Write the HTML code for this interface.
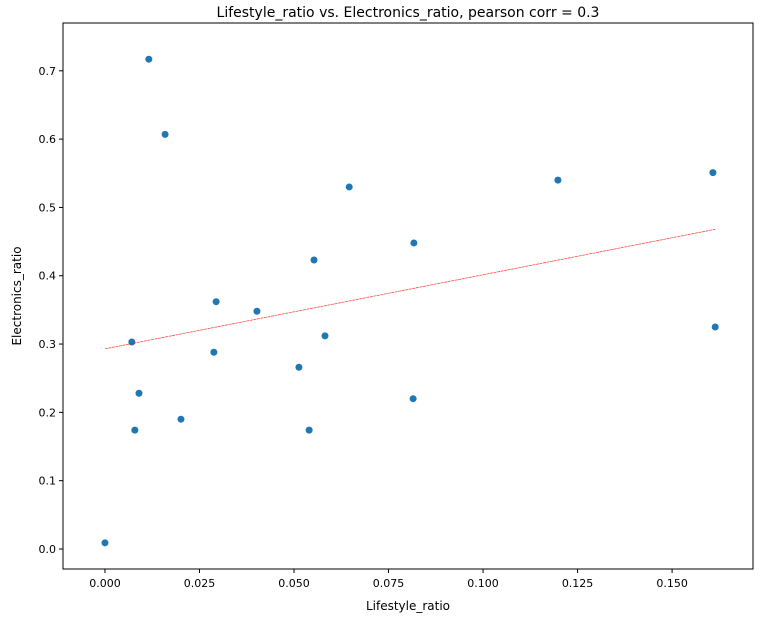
<!DOCTYPE html>
<html><head><meta charset="utf-8"><style>
body{margin:0;background:#fff;}
svg{display:block;font-family:"DejaVu Sans","Liberation Sans",sans-serif;}
</style></head><body>
<svg id="chart" width="772" height="624" viewBox="0 0 772 624">
<text x="408" y="17" text-anchor="middle" font-size="14" fill="#000">Lifestyle_ratio vs. Electronics_ratio, pearson corr = 0.3</text>
<g id="marks"></g>
<g id="axes"></g>
<text x="408" y="610" text-anchor="middle" font-size="12">Lifestyle_ratio</text>
<text x="21" y="296" text-anchor="middle" font-size="12" transform="rotate(-90 21 296)">Electronics_ratio</text>
</svg>
<script>
const xs=[0,0.0116,0.0159,0.0071,0.0090,0.0079,0.0201,0.0294,0.0288,0.0402,0.0513,0.0540,0.0553,0.0582,0.0646,0.0817,0.0815,0.1198,0.1608,0.1614];
const ys=[0.009,0.717,0.607,0.303,0.228,0.174,0.190,0.362,0.288,0.348,0.266,0.174,0.423,0.312,0.530,0.448,0.220,0.540,0.551,0.325];
const xTicks=[0,0.025,0.05,0.075,0.1,0.125,0.15];
const xTickLabels=["0.000","0.025","0.050","0.075","0.100","0.125","0.150"];
const yTicks=[0,0.1,0.2,0.3,0.4,0.5,0.6,0.7];
const yTickLabels=["0.0","0.1","0.2","0.3","0.4","0.5","0.6","0.7"];
const trendStart=[0,0.293];
const trendEnd=[0.1614,0.468];
const L=63,R=753,T=23,B=569;
const xMin=-0.0111,xMax=0.1714,yMin=-0.0293,yMax=0.770;
const sx=v=>L+(v-xMin)/(xMax-xMin)*(R-L);
const sy=v=>B-(v-yMin)/(yMax-yMin)*(B-T);
const NS="http://www.w3.org/2000/svg";
function mk(tag,attrs,parent){const e=document.createElementNS(NS,tag);for(const k in attrs)e.setAttribute(k,attrs[k]);parent.appendChild(e);return e;}
const marks=document.getElementById('marks'),axes=document.getElementById('axes');
xs.forEach((x,i)=>{const c=mk('circle',{cx:sx(x),cy:sy(ys[i]),r:3.5,fill:'#1f77b4'},marks);

});
const tl=mk('line',{x1:sx(trendStart[0]),y1:sy(trendStart[1]),x2:sx(trendEnd[0]),y2:sy(trendEnd[1]),stroke:'#ff0000','stroke-width':0.8,'stroke-opacity':0.7,'stroke-dasharray':'3,0.6'},marks);


const fr=mk('rect',{x:L,y:T,width:R-L,height:B-T,fill:'none',stroke:'#000','stroke-width':1},axes);


xTicks.forEach((t,i)=>{const x=sx(t);mk('line',{x1:x,y1:B,x2:x,y2:B+4,stroke:'#000'},axes);
const tx=mk('text',{x:x,y:B+18,'text-anchor':'middle','font-size':11},axes);tx.textContent=xTickLabels[i];

});
yTicks.forEach((t,i)=>{const y=sy(t);mk('line',{x1:L-4,y1:y,x2:L,y2:y,stroke:'#000'},axes);
const tx=mk('text',{x:L-7,y:y+4,'text-anchor':'end','font-size':11},axes);tx.textContent=yTickLabels[i];

});
</script>
</body></html>
